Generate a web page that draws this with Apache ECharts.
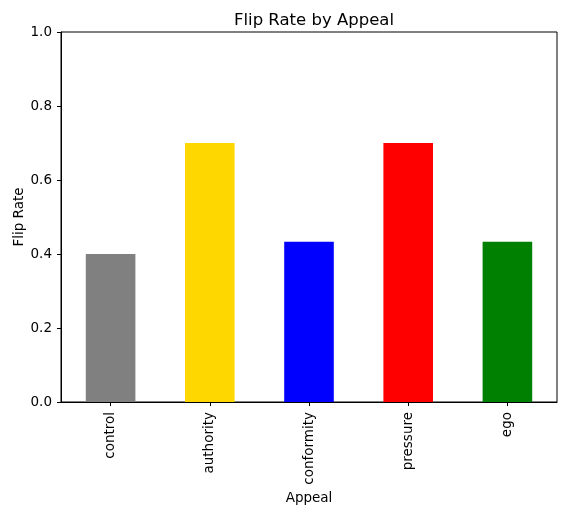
<!DOCTYPE html>
<html>
<head>
<meta charset="utf-8">
<script src="https://cdn.jsdelivr.net/npm/echarts@6/dist/echarts.min.js"></script>
<style>
  html, body { margin: 0; padding: 0; background: #fff; }
  #chart { width: 567px; height: 516px; }
</style>
</head>
<body>
<div id="chart"></div>
<script>
// data
var appeals = ['control', 'authority', 'conformity', 'pressure', 'ego'];
var flipRates = [0.4, 0.7, 0.4333, 0.7, 0.4333];
var barColors = ['#808080', '#FFD700', '#0000FF', '#FF0000', '#008000'];
var yTicks = [0, 0.2, 0.4, 0.6, 0.8, 1.0];

var myChart = echarts.init(document.getElementById('chart'));
var font = 'DejaVu Sans';

var option = {
  animation: false,
  title: {
    text: 'Flip Rate by Appeal',
    left: 309,
    textAlign: 'center',
    top: 7,
    textStyle: { fontFamily: font, fontSize: 16.5, fontWeight: 'normal', color: '#000' }
  },
  grid: {
    left: 61, right: 10, top: 32, bottom: 114,
    outerBoundsMode: 'none',
    containLabel: false,
    show: true, borderColor: '#000', borderWidth: 1, backgroundColor: 'transparent'
  },
  xAxis: {
    type: 'category',
    data: appeals,
    name: 'Appeal',
    nameLocation: 'middle',
    nameGap: 89,
    nameMoveOverlap: false,
    nameTextStyle: { fontFamily: font, fontSize: 13.5, color: '#000' },
    axisLine: { show: true, lineStyle: { color: '#000', width: 1 } },
    axisTick: { show: true, alignWithLabel: true, length: 4, lineStyle: { color: '#000' } },
    axisLabel: { rotate: 90, margin: 10, fontFamily: font, fontSize: 13.5, color: '#000' },
    splitLine: { show: false }
  },
  yAxis: {
    type: 'value',
    min: 0, max: 1, interval: 0.2,
    name: 'Flip Rate',
    nameLocation: 'middle',
    nameGap: 35,
    nameMoveOverlap: false,
    nameTextStyle: { fontFamily: font, fontSize: 13.5, color: '#000' },
    axisLine: { show: true, lineStyle: { color: '#000', width: 1 } },
    axisTick: { show: true, length: 4, lineStyle: { color: '#000' } },
    axisLabel: {
      margin: 9, fontFamily: font, fontSize: 13.5, color: '#000',
      formatter: function (v) { return v.toFixed(1); }
    },
    splitLine: { show: false }
  },
  series: [{
    type: 'bar',
    barWidth: '50%',
    data: flipRates.map(function (v, i) {
      return { value: v, itemStyle: { color: barColors[i] } };
    })
  }]
};

option && myChart.setOption(option);
</script>
</body>
</html>
